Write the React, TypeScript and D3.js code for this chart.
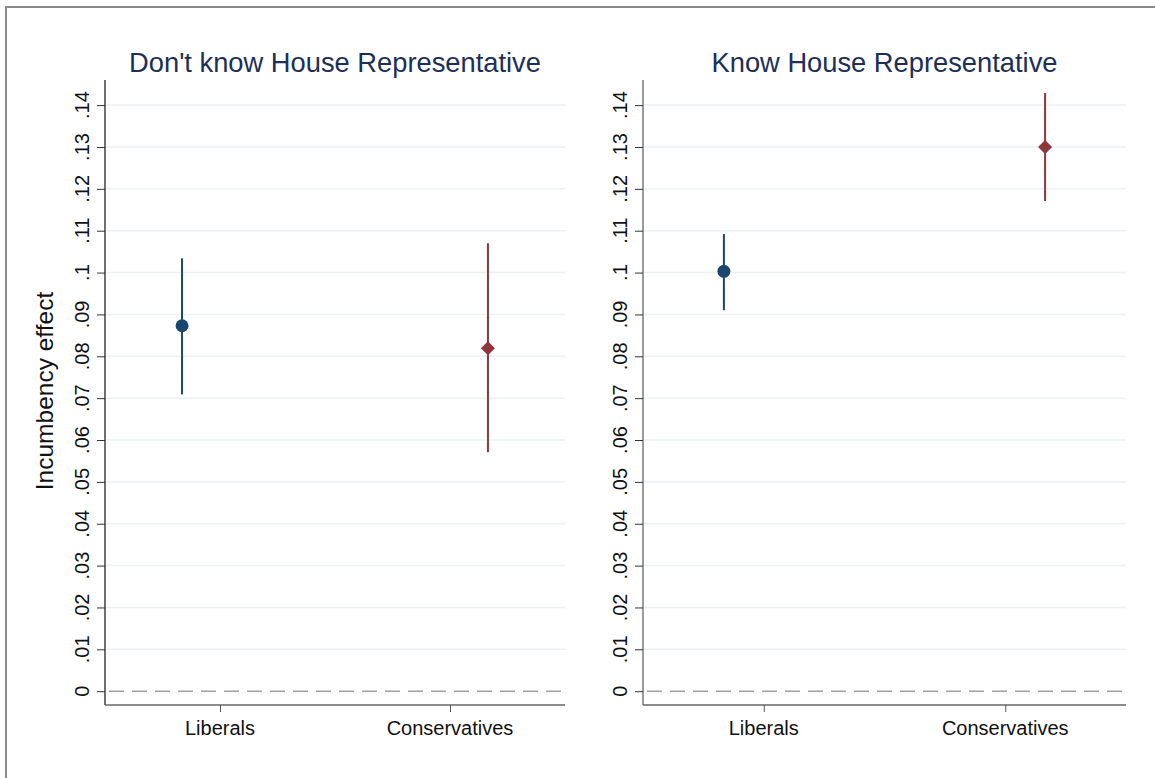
import { useEffect, useRef } from "react";
import * as d3 from "d3";

const panelTitles = ["Don't know House Representative", "Know House Representative"];
const categories = ["Liberals", "Conservatives"];
const yTicks = [0, 0.01, 0.02, 0.03, 0.04, 0.05, 0.06, 0.07, 0.08, 0.09, 0.1, 0.11, 0.12, 0.13, 0.14];

// point estimates and 95% CI, per panel: [Liberals, Conservatives]
const estimates = [
  [0.0873, 0.0819],
  [0.1003, 0.13]
];
const ciLow = [
  [0.0709, 0.0571],
  [0.091, 0.1171]
];
const ciHigh = [
  [0.1034, 0.107],
  [0.1092, 0.1429]
];

const W = 1155, H = 778;
const NAVY = "#1a476f";
const MAROON = "#90353b";
const FONT = "'Liberation Sans', Arial, sans-serif";

export default function App() {
  const ref = useRef<SVGSVGElement | null>(null);

  useEffect(() => {
    const svg = d3.select(ref.current);
    svg.selectAll("*").remove();

    svg.append("rect").attr("x", 0).attr("y", 0).attr("width", W).attr("height", H).attr("fill", "white");

    // outer frame, runs off the right and bottom edges
    svg.append("rect")
      .attr("x", 6).attr("y", 7)
      .attr("width", W + 20).attr("height", H + 20)
      .attr("fill", "none")
      .attr("stroke", "#8a8a8a")
      .attr("stroke-width", 2);

    const y = d3.scaleLinear().domain([-0.0033, 0.146]).range([705, 80]);
    const panels = [
      { x0: 105, x1: 565, axisColor: "#222" },
      { x0: 643, x1: 1126, axisColor: "#666" }
    ];
    const offset = 0.165;
    const fmt = (d: number) => (d === 0 ? "0" : String(d).replace("0.", "."));

    panels.forEach((p, pi) => {
      const x = d3.scaleLinear().domain([0.5, 2.5]).range([p.x0, p.x1]);
      const g = svg.append("g");

      // gridlines
      g.selectAll("line.grid")
        .data(yTicks.filter(d => d !== 0))
        .enter()
        .append("line")
        .attr("x1", p.x0).attr("x2", p.x1)
        .attr("y1", d => y(d)).attr("y2", d => y(d))
        .attr("stroke", "#eaf2f3")
        .attr("stroke-width", 1.5);

      // zero line
      g.append("line")
        .attr("x1", p.x0 + 4).attr("x2", p.x1)
        .attr("y1", y(0)).attr("y2", y(0))
        .attr("stroke", "#a0a0a0")
        .attr("stroke-width", 1.6)
        .attr("stroke-dasharray", "15 8");

      // y axis
      const ay = d3.axisLeft(y).tickValues(yTicks).tickSize(8).tickFormat(() => "");
      g.append("g")
        .attr("transform", `translate(${p.x0},0)`)
        .call(ay as any)
        .call((s: any) => s.select("path.domain").attr("d", `M0,${y.range()[0]}V${y.range()[1]}`).attr("stroke", p.axisColor).attr("stroke-width", 1.3))
        .call((s: any) => s.selectAll("line").attr("stroke", "#333"));

      g.selectAll("text.ytick")
        .data(yTicks)
        .enter()
        .append("text")
        .attr("transform", d => `translate(${p.x0 - 16},${y(d)}) rotate(-90)`)
        .attr("text-anchor", "middle")
        .attr("font-family", FONT)
        .attr("font-size", 20)
        .attr("fill", "#111")
        .text(d => fmt(d));

      // x axis
      const ax = d3.axisBottom(x).tickValues([1, 2]).tickSize(7).tickFormat(() => "");
      g.append("g")
        .attr("transform", `translate(0,${y.range()[0]})`)
        .call(ax as any)
        .call((s: any) => s.select("path.domain").attr("d", `M${p.x0},0H${p.x1}`).attr("stroke", "#666").attr("stroke-width", 1.3))
        .call((s: any) => s.selectAll("line").attr("stroke", "#555"));

      g.selectAll("text.xtick")
        .data(categories)
        .enter()
        .append("text")
        .attr("x", (_, i) => x(i + 1))
        .attr("y", 735)
        .attr("text-anchor", "middle")
        .attr("font-family", FONT)
        .attr("font-size", 20)
        .attr("fill", "#111")
        .text(d => d);

      // title
      g.append("text")
        .attr("x", (p.x0 + p.x1) / 2)
        .attr("y", 72)
        .attr("text-anchor", "middle")
        .attr("font-family", FONT)
        .attr("font-size", 27.3)
        .attr("fill", "#1c3057")
        .text(panelTitles[pi]);

      // CIs and markers
      categories.forEach((_, ci) => {
        const cx = x(ci + 1 + (ci === 0 ? -offset : offset));
        const color = ci === 0 ? NAVY : MAROON;
        g.append("line")
          .attr("x1", cx).attr("x2", cx)
          .attr("y1", y(ciLow[pi][ci])).attr("y2", y(ciHigh[pi][ci]))
          .attr("stroke", color)
          .attr("stroke-width", 2);
        const cy = y(estimates[pi][ci]);
        if (ci === 0) {
          g.append("circle").attr("cx", cx).attr("cy", cy).attr("r", 6.5).attr("fill", NAVY);
        } else {
          const r = 7;
          g.append("path")
            .attr("d", `M${cx},${cy - r}L${cx + r},${cy}L${cx},${cy + r}L${cx - r},${cy}Z`)
            .attr("fill", MAROON);
        }
      });
    });

    // y axis title
    svg.append("text")
      .attr("transform", `translate(53,391) rotate(-90)`)
      .attr("text-anchor", "middle")
      .attr("font-family", FONT)
      .attr("font-size", 24.5)
      .attr("fill", "#111")
      .text("Incumbency effect");
  }, []);

  return (
    <svg
      ref={ref}
      width={W}
      height={H}
      style={{ position: "absolute", left: 0, top: 0, display: "block" }}
    />
  );
}
